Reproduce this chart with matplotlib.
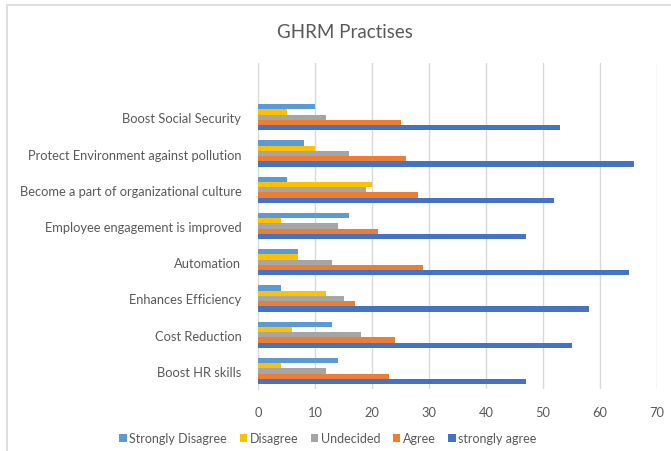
import numpy as np
import matplotlib.pyplot as plt
from matplotlib.patches import Rectangle

categories = ["Boost HR skills", "Cost Reduction", "Enhances Efficiency", "Automation",
              "Employee engagement is improved", "Become a part of organizational culture",
              "Protect Environment against pollution", "Boost Social Security"]
strongly_disagree = [14, 13, 4, 7, 16, 5, 8, 10]
disagree = [4, 6, 12, 7, 4, 20, 10, 5]
undecided = [12, 18, 15, 13, 14, 19, 16, 12]
agree = [23, 24, 17, 29, 21, 28, 26, 25]
strongly_agree = [47, 55, 58, 65, 47, 52, 66, 53]

series = [strongly_disagree, disagree, undecided, agree, strongly_agree]
names = ["Strongly Disagree", "Disagree", "Undecided", "Agree", "strongly agree"]
colors = ["#5B9BD5", "#FFC000", "#A5A5A5", "#ED7D31", "#4472C4"]

plt.rcParams['font.family'] = ['Lato', 'DejaVu Sans']
txt = "#595959"

fig = plt.figure(figsize=(6.71, 4.52), dpi=100)
fig.patches.append(Rectangle((7/671, -0.1), 1.2, 1 - 6/452 + 0.1, transform=fig.transFigure,
                             fill=False, edgecolor="#D9D9D9", linewidth=1.2))
ax = fig.add_axes([258/671, 62/452, 399/671, 326/452])

y = np.arange(len(categories))
h = 0.145
for j, vals in enumerate(series):
    ax.barh(y + (2 - j) * h, vals, height=h, color=colors[j], label=names[j], zorder=3)

ax.set_xlim(0, 70)
ax.set_xticks(range(0, 71, 10))
ax.set_ylim(-0.5, len(categories) + 0.5)
ax.set_yticks(y)
ax.set_yticklabels(categories)
ax.grid(axis='x', color="#D9D9D9", linewidth=1, zorder=0)
for s in ['top', 'right', 'bottom']:
    ax.spines[s].set_visible(False)
ax.spines['left'].set_color("#D9D9D9")
ax.tick_params(axis='both', length=0, colors=txt, labelsize=9.3)
ax.tick_params(axis='x', pad=12)
ax.tick_params(axis='y', pad=12)

fig.text(345/671, 1 - 33/452, "GHRM Practises", ha='center', va='center', fontsize=13.5, color=txt)

fig.legend(loc='center', bbox_to_anchor=(328/671, 1 - 439/452), ncol=5, frameon=False,
           handlelength=0.6, handleheight=0.6, handletextpad=0.2, columnspacing=1.0,
           fontsize=9, labelcolor=txt)

fig.savefig("out.png", dpi=100)
